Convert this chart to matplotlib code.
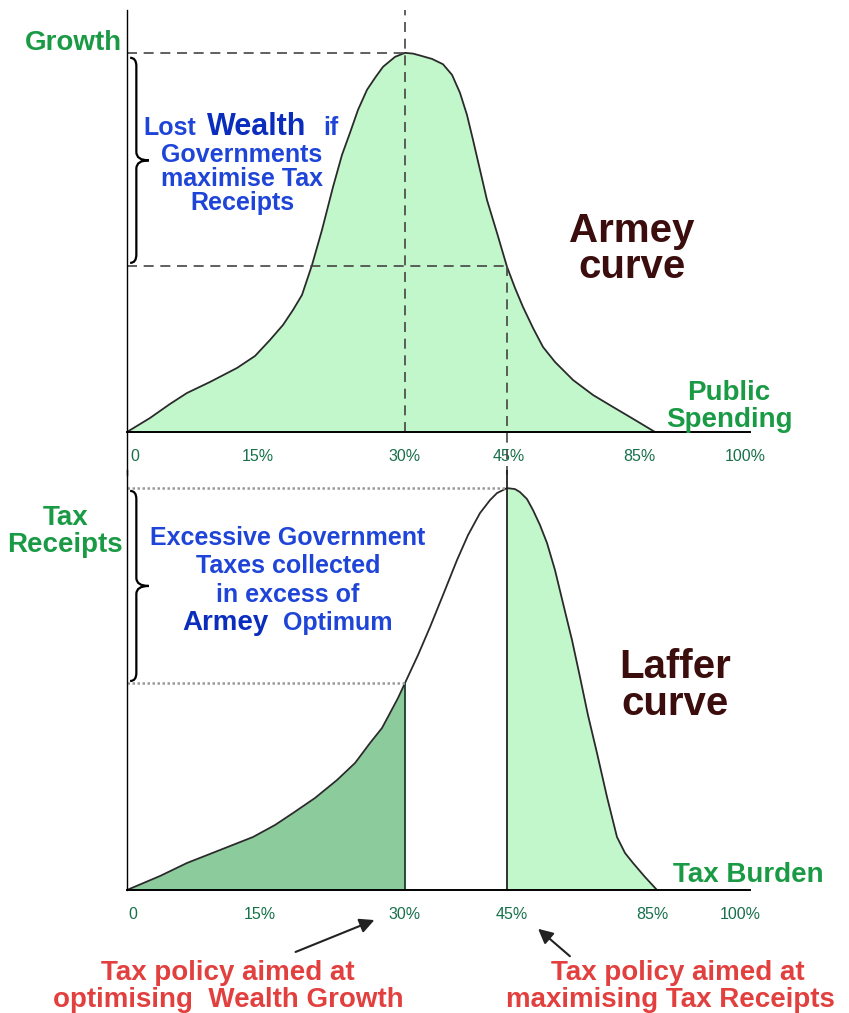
import numpy as np
import matplotlib.pyplot as plt
from matplotlib.path import Path
from matplotlib.patches import PathPatch, FancyArrowPatch

W, H = 849, 1013

# Armey curve (growth vs public spending), diagram units: x 0..100 along axis, y 0..100 of peak
armey_x = [0, 3.69, 6.90, 9.63, 13.32, 17.66, 20.55, 22.95, 25.04, 26.65, 28.09,
           29.70, 31.30, 33.07, 34.51, 35.79, 37.08, 38.52, 39.81, 41.09, 43.02,
           44.62, 45.91, 47.03, 48.96, 50.72, 52.17, 53.45, 54.57, 55.54, 56.66,
           57.78, 59.39, 61.00, 62.28, 63.56, 65.17, 66.77, 68.70, 71.59, 74.80,
           78.01, 81.54, 84.75]
armey_y = [0, 3.69, 7.39, 10.29, 13.19, 16.89, 20.05, 24.27, 28.23, 32.19, 36.15,
           44.06, 53.30, 64.64, 73.09, 78.89, 84.96, 90.24, 93.40, 96.31, 98.94,
           100, 99.8, 99.3, 98.4, 97.0, 94.2, 89.45, 83.64, 77.04, 69.13,
           61.21, 52.51, 43.54, 37.99, 32.98, 27.44, 22.43, 18.47, 13.72, 9.76,
           6.60, 3.17, 0]

# Laffer curve (tax receipts vs tax burden)
laffer_x = [0, 5.30, 9.63, 14.93, 20.22, 23.76, 26.65, 30.18, 33.71, 36.60, 39.01,
            40.93, 42.22, 43.50, 44.62, 46.71, 48.64, 50.72, 52.97, 54.74, 56.66,
            58.27, 59.39, 61.00, 62.28, 63.08, 64.21, 65.17, 66.29, 67.42, 68.70,
            69.98, 71.43, 72.71, 73.99, 75.44, 77.05, 78.65, 79.94, 81.22, 83.15,
            85.07]
laffer_y = [0, 3.48, 6.72, 9.95, 13.18, 16.17, 19.15, 22.89, 27.36, 31.59, 36.57,
            40.30, 44.03, 47.76, 51.49, 58.46, 65.42, 73.38, 82.09, 88.31, 93.78,
            97.01, 98.76, 100, 99.75, 99.0, 97.26, 94.53, 90.80, 86.32, 79.60,
            71.39, 62.19, 52.99, 43.53, 34.08, 23.13, 13.18, 9.20, 6.72, 3.23,
            0]

armey_opt_x = 44.62    # 30%
laffer_opt_x = 61.0    # 45%
armey_at_laffer = 43.8
laffer_at_armey = 51.49

tick_labels = ['0', '15%', '30%', '45%', '85%', '100%']
top_ticks = [1.3, 21.0, 44.5, 61.2, 82.3, 99.2]
bot_ticks = [1.0, 21.3, 44.5, 61.8, 84.4, 98.4]

GREEN_TXT = '#1b9a45'
TICK_C = '#17704a'
BLUE = '#1f45d8'
DBLUE = '#0b2dbd'
BROWN = '#3b0d0d'
RED = '#e2403f'
LIGHT = '#c2f7cc'
DARK = '#8ccb9b'
FONT = ['Liberation Sans', 'DejaVu Sans']


def px(x, y):
    return x / W, 1 - y / H


def brace(ax, x0, x1, x2, ytop, ybot, d):
    ymid = (ytop + ybot) / 2
    verts = [(x0, ytop), (x1, ytop), (x1, ytop - d), (x1, ymid + d),
             (x1, ymid), (x2, ymid), (x1, ymid), (x1, ymid - d),
             (x1, ybot + d), (x1, ybot), (x0, ybot)]
    codes = [Path.MOVETO, Path.CURVE3, Path.CURVE3, Path.LINETO,
             Path.CURVE3, Path.CURVE3, Path.CURVE3, Path.CURVE3,
             Path.LINETO, Path.CURVE3, Path.CURVE3]
    ax.add_patch(PathPatch(Path(verts, codes), fc='none', ec='black',
                           lw=1.6, clip_on=False))


def ftext(x, y, s, **kw):
    fx, fy = px(x, y)
    kw.setdefault('family', FONT)
    kw.setdefault('va', 'baseline')
    fig.text(fx, fy, s, **kw)


fig = plt.figure(figsize=(W / 100, H / 100), dpi=100)
fig.patch.set_facecolor('white')

ax1 = fig.add_axes([127 / W, 1 - 432 / H, 623 / W, 422 / H])
ax2 = fig.add_axes([127 / W, 1 - 890 / H, 623 / W, 420 / H])

for ax, ticks, top in [(ax1, top_ticks, 111.3), (ax2, bot_ticks, 104.5)]:
    ax.set_xlim(0, 100)
    ax.set_ylim(0, top)
    for s in ['top', 'right']:
        ax.spines[s].set_visible(False)
    ax.spines['left'].set_linewidth(1.0)
    ax.spines['bottom'].set_linewidth(1.4)
    ax.set_yticks([])
    ax.set_xticks(ticks)
    ax.set_xticklabels(tick_labels, family=FONT, fontsize=11.5, color=TICK_C)
    ax.tick_params(axis='x', length=0, pad=12)
    ax.patch.set_alpha(0)

# ---- Armey curve
ax1.fill_between(armey_x, armey_y, 0, color=LIGHT, lw=0)
ax1.plot(armey_x, armey_y, color='#2a2a2a', lw=1.3)
dash = dict(color='#444444', lw=1.2, dashes=(6, 4))
ax1.plot([0, armey_opt_x], [100, 100], **dash)
ax1.plot([0, laffer_opt_x], [armey_at_laffer, armey_at_laffer], **dash)
ax1.plot([armey_opt_x, armey_opt_x], [0, 111.3], **dash)
ax1.plot([laffer_opt_x, laffer_opt_x], [armey_at_laffer, -11.3], clip_on=False, **dash)
ax1.plot([0, 0], [0, -11.3], color='black', lw=1.0, clip_on=False)
brace(ax1, 0.5, 1.5, 3.5, 98.7, 44.6, 2.2)

# ---- Laffer curve
lx = np.array(laffer_x)
ly = np.array(laffer_y)
ax2.fill_between(lx, ly, 0, where=lx <= armey_opt_x, color=DARK, lw=0)
ax2.fill_between(lx, ly, 0, where=lx >= laffer_opt_x, color=LIGHT, lw=0)
ax2.plot(lx, ly, color='#2a2a2a', lw=1.3)
ax2.plot([armey_opt_x, armey_opt_x], [0, laffer_at_armey], color='#1f3f2a', lw=1.3)
ax2.plot([laffer_opt_x, laffer_opt_x], [0, 104.5], color='#222222', lw=1.3)
dots = dict(color='#9a9a9a', lw=1.8, ls=(0, (1, 1)))
ax2.plot([0, laffer_opt_x], [100, 100], **dots)
ax2.plot([0, armey_opt_x], [laffer_at_armey, laffer_at_armey], **dots)
brace(ax2, 0.5, 1.5, 3.5, 99.3, 52.0, 2.0)

# ---- labels
ftext(122, 50, 'Growth', ha='right', fontsize=20, weight='bold', color=GREEN_TXT)
ftext(66, 525, 'Tax', ha='center', fontsize=20, weight='bold', color=GREEN_TXT)
ftext(65, 552, 'Receipts', ha='center', fontsize=20, weight='bold', color=GREEN_TXT)
ftext(729, 400, 'Public', ha='center', fontsize=20, weight='bold', color=GREEN_TXT)
ftext(729, 427, 'Spending', ha='center', fontsize=20, weight='bold', color=GREEN_TXT)
ftext(748, 882, 'Tax Burden', ha='center', fontsize=20, weight='bold', color=GREEN_TXT)

ftext(632, 242, 'Armey', ha='center', fontsize=29, weight='bold', color=BROWN)
ftext(632, 278, 'curve', ha='center', fontsize=29, weight='bold', color=BROWN)
ftext(675, 678, 'Laffer', ha='center', fontsize=29, weight='bold', color=BROWN)
ftext(675, 715, 'curve', ha='center', fontsize=29, weight='bold', color=BROWN)

# top blue note
ftext(143, 135, 'Lost', fontsize=18, weight='bold', color=BLUE)
ftext(207, 135, 'Wealth', fontsize=22, weight='bold', color=DBLUE)
ftext(323, 135, 'if', fontsize=18, weight='bold', color=BLUE)
for txt, yb in [('Governments', 162), ('maximise Tax', 186), ('Receipts', 210)]:
    ftext(242, yb, txt, ha='center', fontsize=18, weight='bold', color=BLUE)

# bottom blue note
for txt, yb in [('Excessive Government', 545), ('Taxes collected', 573),
                ('in excess of', 602)]:
    ftext(288, yb, txt, ha='center', fontsize=18, weight='bold', color=BLUE)
ftext(182, 630, 'Armey', fontsize=20, weight='bold', color=DBLUE)
ftext(283, 630, 'Optimum', fontsize=18, weight='bold', color=BLUE)

# red policy notes
ftext(228, 980, 'Tax policy aimed at', ha='center', fontsize=20, weight='bold', color=RED)
ftext(228, 1007, 'optimising  Wealth Growth', ha='center', fontsize=20, weight='bold', color=RED)
ftext(678, 980, 'Tax policy aimed at', ha='center', fontsize=20, weight='bold', color=RED)
ftext(670, 1007, 'maximising Tax Receipts', ha='center', fontsize=20, weight='bold', color=RED)

arrow = dict(arrowstyle='-|>', color='#222222', lw=1.5, mutation_scale=22)
fig.add_artist(FancyArrowPatch(px(293, 953), px(377, 919),
               transform=fig.transFigure, **arrow))
fig.add_artist(FancyArrowPatch(px(572, 958), px(536, 927),
               transform=fig.transFigure, **arrow))

fig.savefig('out.png', dpi=100)
